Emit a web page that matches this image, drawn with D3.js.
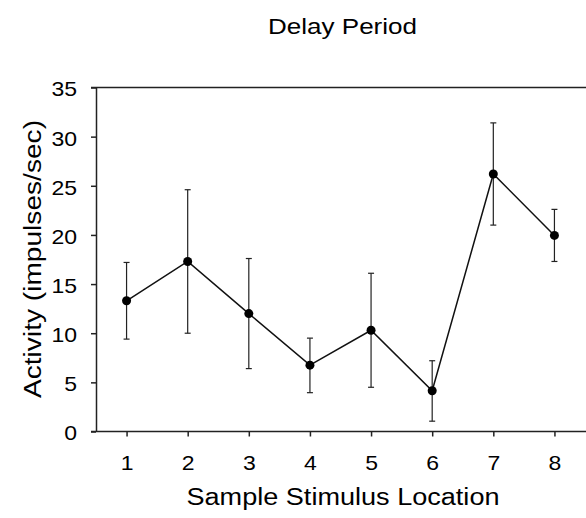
<!DOCTYPE html>
<html><head><meta charset="utf-8">
<script src="https://cdn.jsdelivr.net/npm/d3@7"></script>
<style>body{margin:0;background:#fff}svg{display:block}text{font-family:"Liberation Sans",Arial,sans-serif;fill:#000}</style>
</head><body>
<svg id="c" width="586" height="518"></svg>
<script>
const locations = [1,2,3,4,5,6,7,8];
const activity = [13.3,17.3,12.0,6.75,10.3,4.15,26.2,19.95];
const errLow  = [9.4,10.0,6.4,3.95,4.5,1.05,21.0,17.3];
const errHigh = [17.2,24.6,17.6,9.5,16.1,7.2,31.4,22.6];
const yTicks = [0,5,10,15,20,25,30,35];

const svg = d3.select("#c");
const x = d3.scaleLinear().domain([0.5,8.5]).range([96,585]);
const y = d3.scaleLinear().domain([0,35]).range([431.5,87.5]);

function stretchDigits(sel){
  sel.attr("font-size",21).attr("font-family","Liberation Sans, Arial, sans-serif")
     .attr("lengthAdjust","spacingAndGlyphs")
     .attr("textLength",function(){return this.textContent.length*12.8;});
}

svg.append("g").attr("transform","translate(96,0)")
  .call(d3.axisLeft(y).tickValues(yTicks).tickSize(5).tickPadding(14).tickSizeOuter(0))
  .call(g=>g.select(".domain").attr("stroke","#222").attr("stroke-width",1.5))
  .call(g=>g.selectAll(".tick line").attr("stroke","#222").attr("stroke-width",1.5))
  .call(g=>g.selectAll("text").call(stretchDigits).attr("dy","0.4em"));

svg.append("g").attr("transform","translate(0,431.5)")
  .call(d3.axisBottom(x).tickValues(locations).tickSize(5).tickPadding(19).tickSizeOuter(0))
  .call(g=>g.select(".domain").attr("stroke","#222").attr("stroke-width",1.5).attr("d","M91,0H586"))
  .call(g=>g.selectAll(".tick line").attr("stroke","#222").attr("stroke-width",1.5))
  .call(g=>g.selectAll("text").call(stretchDigits));

// top frame line
svg.append("line").attr("x1",91).attr("x2",586).attr("y1",y(35)).attr("y2",y(35))
  .attr("stroke","#222").attr("stroke-width",1.5);

// error bars
const eb = svg.append("g").attr("stroke","#222").attr("stroke-width",1.2);
locations.forEach((l,i)=>{
  const cx = x(l);
  eb.append("line").attr("x1",cx).attr("x2",cx).attr("y1",y(errLow[i])).attr("y2",y(errHigh[i]));
  eb.append("line").attr("x1",cx-3).attr("x2",cx+3).attr("y1",y(errLow[i])).attr("y2",y(errLow[i]));
  eb.append("line").attr("x1",cx-3).attr("x2",cx+3).attr("y1",y(errHigh[i])).attr("y2",y(errHigh[i]));
});

// line
svg.append("path").datum(locations.map((l,i)=>[l,activity[i]]))
  .attr("fill","none").attr("stroke","#111").attr("stroke-width",1.5)
  .attr("d", d3.line().x(d=>x(d[0])).y(d=>y(d[1])));

// points
svg.append("g").selectAll("circle").data(locations).join("circle")
  .attr("cx",(d)=>x(d)).attr("cy",(d,i)=>y(activity[i])).attr("r",4.5).attr("fill","#000");

// titles
svg.append("text").attr("x",342.5).attr("y",34).attr("text-anchor","middle").attr("font-size",22)
  .attr("textLength",149).attr("lengthAdjust","spacingAndGlyphs").text("Delay Period");
svg.append("text").attr("x",343).attr("y",505).attr("text-anchor","middle").attr("font-size",23)
  .attr("textLength",313).attr("lengthAdjust","spacingAndGlyphs").text("Sample Stimulus Location");
svg.append("text").attr("transform","translate(41,259) rotate(-90)").attr("text-anchor","middle").attr("font-size",23)
  .attr("textLength",278).attr("lengthAdjust","spacingAndGlyphs").text("Activity (impulses/sec)");
</script>
</body></html>
